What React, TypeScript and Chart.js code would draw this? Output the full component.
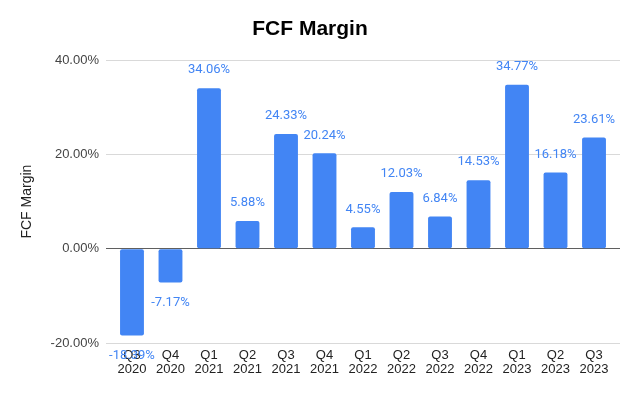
import React, { useEffect, useRef } from "react";
import { Chart, registerables } from "chart.js";

Chart.register(...registerables);

const categories = [
  "Q3 2020", "Q4 2020", "Q1 2021", "Q2 2021", "Q3 2021", "Q4 2021", "Q1 2022",
  "Q2 2022", "Q3 2022", "Q4 2022", "Q1 2023", "Q2 2023", "Q3 2023",
];
const fcfMargin = [-18.39, -7.17, 34.06, 5.88, 24.33, 20.24, 4.55, 12.03, 6.84, 14.53, 34.77, 16.18, 23.61];
const yTicks = [-20, 0, 20, 40];

const BLUE = "#4285f4";

const dataLabels = {
  id: "dataLabels",
  afterDatasetsDraw(chart: any) {
    const ctx = chart.ctx;
    const meta = chart.getDatasetMeta(0);
    ctx.save();
    ctx.font = "13px Roboto";
    ctx.fillStyle = BLUE;
    ctx.textAlign = "center";
    ctx.textBaseline = "middle";
    meta.data.forEach((bar: any, i: number) => {
      const v = fcfMargin[i];
      const y = v >= 0 ? bar.y - 18 : bar.y + 20;
      ctx.fillText(v.toFixed(2) + "%", bar.x, y);
    });
    ctx.restore();
  },
};

export default function App() {
  const ref = useRef<HTMLCanvasElement>(null);
  useEffect(() => {
    document.body.style.margin = "0";
    const chart = new Chart(ref.current!, {
      type: "bar",
      data: {
        datasets: [
          {
            label: "FCF Margin",
            data: fcfMargin.map((v, i) => ({ x: i, y: v })),
            backgroundColor: BLUE,
            borderRadius: 2,
            borderSkipped: false,
            categoryPercentage: 1,
            barPercentage: 0.62,
          },
        ],
      },
      options: {
        animation: false,
        responsive: false,
        maintainAspectRatio: false,
        layout: { padding: { left: 0, right: 20, top: 0, bottom: 0 } },
        plugins: {
          legend: { display: false },
          tooltip: { enabled: false },
          title: {
            display: true,
            text: "FCF Margin",
            color: "#000",
            font: { family: "Liberation Sans", size: 21, weight: "bold" },
            padding: { top: 17, bottom: 18 },
          },
        },
        scales: {
          x: {
            type: "linear",
            min: -0.675,
            max: 12.675,
            bounds: "data",
            offset: false,
            grid: { display: false, drawTicks: false },
            border: { display: false },
            afterFit: (s: any) => {
              s.height = 53;
            },
            afterBuildTicks: (s: any) => {
              s.ticks = categories.map((_, i) => ({ value: i }));
            },
            ticks: {
              autoSkip: false,
              maxRotation: 0,
              padding: 5,
              color: "#222",
              font: { family: "Liberation Sans", size: 13, lineHeight: 1.1 },
              callback: (value: any) =>
                Number.isInteger(value) && categories[value] ? categories[value].split(" ") : "",
            },
          },
          y: {
            min: -20,
            max: 40,
            afterFit: (s: any) => {
              s.width = 106;
            },
            afterBuildTicks: (s: any) => {
              s.ticks = yTicks.map((v) => ({ value: v }));
            },
            grid: {
              drawTicks: false,
              color: (c: any) => (c.tick && c.tick.value === 0 ? "#5f5f5f" : "#d9d9d9"),
              lineWidth: 1,
            },
            border: { display: false },
            ticks: {
              padding: 7,
              color: "#444",
              font: { family: "Liberation Sans", size: 13 },
              callback: (v: any) => Number(v).toFixed(2) + "%",
            },
            title: {
              display: true,
              text: "FCF Margin",
              color: "#222",
              font: { family: "Liberation Sans", size: 14 },
              padding: { top: 19, bottom: 0 },
            },
          },
        },
      },
      plugins: [dataLabels],
    });
    return () => chart.destroy();
  }, []);
  return (
    <div style={{ width: 640, height: 396 }}>
      <canvas ref={ref} width={640} height={396} style={{ display: "block" }} />
    </div>
  );
}
